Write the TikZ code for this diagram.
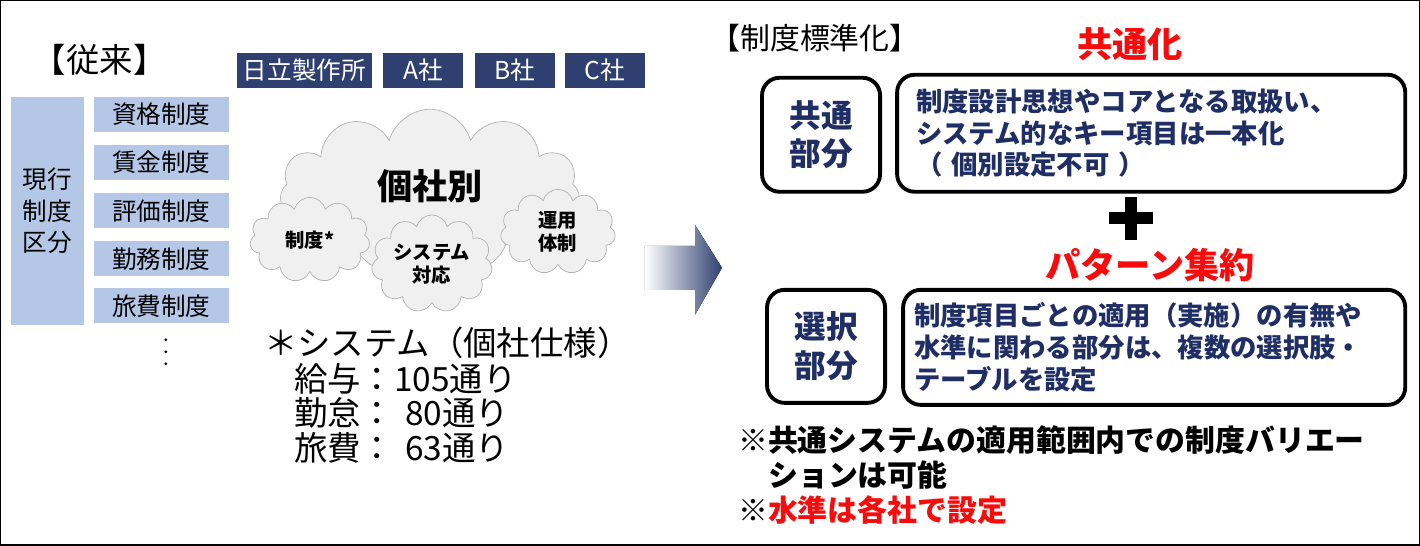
\documentclass[tikz,border=0pt]{standalone}
\usepackage{fontspec}
\setmainfont{Noto Sans CJK JP}
\usetikzlibrary{shapes.symbols, positioning}
\definecolor{hdrnavy}{RGB}{47, 64, 112}
\definecolor{kubunblue}{RGB}{180, 199, 231}
\definecolor{txtnavy}{RGB}{31, 46, 100}
\definecolor{keyred}{RGB}{250, 10, 10}
\tikzset{
  header/.style={fill=hdrnavy, text=white, font=\fontsize{14}{16}\selectfont, minimum height=0.7cm, inner sep=0pt},
  seido/.style={fill=kubunblue, font=\fontsize{14}{16}\selectfont, minimum width=2.7cm, minimum height=0.7cm, inner sep=0pt},
  puff/.style={cloud, cloud puffs=11, aspect=1.4, draw=gray!60, fill=gray!12, inner sep=0pt, font=\bfseries\fontsize{11}{13}\selectfont, align=center},
  rbox/.style={draw, line width=2.2pt, rounded corners=10pt, text=txtnavy, font=\bfseries\fontsize{15}{18}\selectfont, align=left},
  note/.style={font=\fontsize{17}{20}\selectfont, anchor=west}
}
\begin{document}
\begin{tikzpicture}[x=0.02cm, y=-0.02cm]
  % Frame
  \draw[line width=0.8pt] (1,1) rectangle (1419,545);

  % Left: current
  \node[font=\fontsize{19}{22}\selectfont] (juurai) at (100,60) {【従来】};
  \node[header, minimum width=2.7cm] (hitachi) at (304.5,70.5) {日立製作所};
  \node[header, minimum width=1.6cm] (sha a) at (423,70.5) {A社};
  \node[header, minimum width=1.6cm] (sha b) at (515,70.5) {B社};
  \node[header, minimum width=1.6cm] (sha c) at (605,70.5) {C社};

  \node[fill=kubunblue, minimum width=1.46cm, minimum height=4.56cm, align=center, font=\fontsize{14}{18}\selectfont] (kubun) at (47.5,211) {現行\\制度\\区分};
  \node[seido] (shikaku) at (161.5,114.5) {資格制度};
  \node[seido] (chingin) at (161.5,162.5) {賃金制度};
  \node[seido] (hyoka) at (161.5,211) {評価制度};
  \node[seido] (kinmu) at (161.5,259) {勤務制度};
  \node[seido] (ryohi) at (161.5,306) {旅費制度};
  \foreach \y in {340,352,364} \fill (166,\y) circle (1.6);

  % Clouds
  \node[puff, minimum width=6cm, minimum height=3.3cm, font=\bfseries\fontsize{20}{24}\selectfont] (kosha) at (430,192) {\raisebox{0.3cm}{個社別}};
  \node[puff, minimum width=2.4cm, minimum height=1.7cm] (c seido) at (310,240) {制度*};
  \node[puff, minimum width=2.4cm, minimum height=1.8cm] (c system) at (432,264) {システム\\対応};
  \node[puff, minimum width=2.3cm, minimum height=1.7cm] (c unyo) at (558,232) {運用\\体制};

  % Footnote
  \node[note, font=\fontsize{19}{22}\selectfont] (kosha spec) at (258,343) {＊システム（個社仕様）};
  \node[note, font=\fontsize{19}{22}\selectfont] (kyuyo) at (288,379) {給与：105通り};
  \node[note, font=\fontsize{19}{22}\selectfont] (kintai) at (288,413) {勤怠：\,\,80通り};
  \node[note, font=\fontsize{19}{22}\selectfont] (ryohi n) at (288,448) {旅費：\,\,63通り};

  % Arrow
  \fill[left color=white, right color=hdrnavy] (645,246) -- (695,246) -- (695,225) -- (722,268) -- (695,315) -- (695,290) -- (645,290) -- cycle;

  % Right: standardization
  \node[font=\fontsize{17}{20}\selectfont] (hyojun) at (815,38) {【制度標準化】};
  \node[text=keyred, font=\bfseries\fontsize{20}{24}\selectfont] (kyotsuka) at (1130,45) {共通化};
  \node[rbox, align=center, minimum width=2.36cm, minimum height=2.28cm, font=\bfseries\fontsize{18}{22}\selectfont] (kyotsu) at (821,135) {共通\\部分};
  \node[rbox, minimum width=10.16cm, minimum height=2.34cm, text width=9.4cm] (kyotsu txt) at (1151,133.5) {制度設計思想やコアとなる取扱い、\\システム的なキー項目は一本化\\（ 個別設定不可 ）};
  % Plus sign
  \fill (1109,212) rectangle (1153,224);
  \fill (1125,197) rectangle (1137,240);
  \node[text=keyred, font=\bfseries\fontsize{20}{24}\selectfont] (pattern) at (1150,265) {パターン集約};
  \node[rbox, align=center, minimum width=2.36cm, minimum height=2.26cm, font=\bfseries\fontsize{18}{22}\selectfont] (sentaku) at (826,346.5) {選択\\部分};
  \node[rbox, minimum width=10.04cm, minimum height=2.3cm, text width=9.6cm] (sentaku txt) at (1154,347.5) {制度項目ごとの適用（実施）の有無や\\水準に関わる部分は、複数の選択肢・\\テーブルを設定};

  % Notes
  \node[note, font=\bfseries\fontsize{17}{20}\selectfont] (note a) at (732,440) {※共通システムの適用範囲内での制度バリエー};
  \node[note, font=\bfseries\fontsize{17}{20}\selectfont] (note b) at (762,475) {ションは可能};
  \node[note, font=\bfseries\fontsize{17}{20}\selectfont] (note c) at (732,510) {※\textcolor{keyred}{水準は各社で設定}};
\end{tikzpicture}
\end{document}
